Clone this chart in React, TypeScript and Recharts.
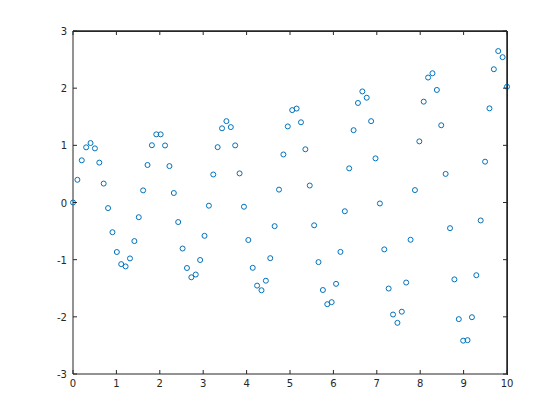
import React from "react";
import { ScatterChart, Scatter, XAxis, YAxis, ReferenceLine } from "recharts";

// sample positions along x (100 points between 0 and 10)
const xs = [
  0, 0.101, 0.202, 0.303, 0.404, 0.505, 0.606, 0.707, 0.808, 0.909,
  1.01, 1.111, 1.212, 1.313, 1.414, 1.515, 1.616, 1.717, 1.818, 1.919,
  2.02, 2.121, 2.222, 2.323, 2.424, 2.525, 2.626, 2.727, 2.828, 2.929,
  3.03, 3.131, 3.232, 3.333, 3.434, 3.535, 3.636, 3.737, 3.838, 3.939,
  4.04, 4.141, 4.242, 4.343, 4.444, 4.545, 4.646, 4.747, 4.848, 4.949,
  5.051, 5.152, 5.253, 5.354, 5.455, 5.556, 5.657, 5.758, 5.859, 5.96,
  6.061, 6.162, 6.263, 6.364, 6.465, 6.566, 6.667, 6.768, 6.869, 6.97,
  7.071, 7.172, 7.273, 7.374, 7.475, 7.576, 7.677, 7.778, 7.879, 7.98,
  8.081, 8.182, 8.283, 8.384, 8.485, 8.586, 8.687, 8.788, 8.889, 8.99,
  9.091, 9.192, 9.293, 9.394, 9.495, 9.596, 9.697, 9.798, 9.899, 10,
];

const ys = [
  0, 0.397, 0.738, 0.965, 1.04, 0.947, 0.698, 0.331, -0.098, -0.52,
  -0.866, -1.078, -1.118, -0.978, -0.675, -0.257, 0.212, 0.656, 1.002, 1.192,
  1.192, 0.998, 0.637, 0.166, -0.342, -0.805, -1.146, -1.308, -1.26, -1.006,
  -0.583, -0.056, 0.49, 0.968, 1.298, 1.423, 1.319, 0.999, 0.509, -0.074,
  -0.656, -1.143, -1.454, -1.535, -1.368, -0.974, -0.414, 0.225, 0.84, 1.331,
  1.616, 1.643, 1.403, 0.931, 0.297, -0.399, -1.043, -1.531, -1.779, -1.743,
  -1.423, -0.864, -0.153, 0.597, 1.265, 1.741, 1.943, 1.833, 1.423, 0.772,
  -0.017, -0.82, -1.505, -1.96, -2.105, -1.91, -1.4, -0.652, 0.217, 1.069,
  1.764, 2.186, 2.261, 1.969, 1.351, 0.5, -0.449, -1.345, -2.04, -2.417,
  -2.408, -2.007, -1.272, -0.314, 0.714, 1.647, 2.331, 2.649, 2.542, 2.025,
];

const xTicks = [0, 1, 2, 3, 4, 5, 6, 7, 8, 9, 10];
const yTicks = [-3, -2, -1, 0, 1, 2, 3];

const data = xs.map((x, i) => ({ x, y: ys[i] }));

const AXIS = "#262626";
const FONT = "DejaVu Sans, sans-serif";
const TICK = 4;

const W = 560;
const H = 420;
const M = { top: 31, right: 53, bottom: 21, left: 43 };
const X_AXIS_H = 25;
const Y_AXIS_W = 30;
// plot box size, used to mirror the inward ticks onto the top and right edges
const PLOT_W = W - M.left - M.right - Y_AXIS_W;
const PLOT_H = H - M.top - M.bottom - X_AXIS_H;

const BottomTick = (props: any) => {
  const { x, y, payload } = props;
  return (
    <g>
      <line x1={x} y1={y} x2={x} y2={y - TICK} stroke={AXIS} strokeWidth={1} />
      <line x1={x} y1={y - PLOT_H} x2={x} y2={y - PLOT_H + TICK} stroke={AXIS} strokeWidth={1} />
      <text x={x} y={y + 13} textAnchor="middle" fontSize={10} fill={AXIS} fontFamily={FONT}>
        {payload.value}
      </text>
    </g>
  );
};

const LeftTick = (props: any) => {
  const { x, y, payload } = props;
  return (
    <g>
      <line x1={x} y1={y} x2={x + TICK} y2={y} stroke={AXIS} strokeWidth={1} />
      <line x1={x + PLOT_W} y1={y} x2={x + PLOT_W - TICK} y2={y} stroke={AXIS} strokeWidth={1} />
      <text x={x - 6} y={y + 4} textAnchor="end" fontSize={10} fill={AXIS} fontFamily={FONT}>
        {payload.value}
      </text>
    </g>
  );
};

const Marker = (props: any) => {
  const { cx, cy } = props;
  return <circle cx={cx} cy={cy} r={2.5} fill="none" stroke="#0072BD" strokeWidth={1} />;
};

export default function App() {
  return (
    <div style={{ position: "fixed", left: 0, top: 0, width: W, height: H, background: "#fff" }}>
      <ScatterChart width={W} height={H} margin={M}>
        <XAxis
          type="number"
          dataKey="x"
          domain={[0, 10]}
          ticks={xTicks}
          height={X_AXIS_H}
          stroke={AXIS}
          tickSize={0}
          tickMargin={0}
          tick={<BottomTick />}
          tickLine={false}
        />
        <YAxis
          type="number"
          dataKey="y"
          domain={[-3, 3]}
          ticks={yTicks}
          width={Y_AXIS_W}
          stroke={AXIS}
          tickSize={0}
          tickMargin={0}
          tick={<LeftTick />}
          tickLine={false}
        />
        <ReferenceLine y={3} stroke={AXIS} strokeWidth={1.5} />
        <ReferenceLine x={10} stroke={AXIS} strokeWidth={1.5} />
        <Scatter data={data} shape={<Marker />} isAnimationActive={false} />
      </ScatterChart>
      {/* axes box outline */}
      <div
        style={{
          position: "absolute",
          left: M.left + Y_AXIS_W,
          top: M.top,
          width: PLOT_W,
          height: PLOT_H,
          borderTop: `1px solid ${AXIS}`,
          borderRight: `1px solid ${AXIS}`,
          pointerEvents: "none",
        }}
      />
    </div>
  );
}
